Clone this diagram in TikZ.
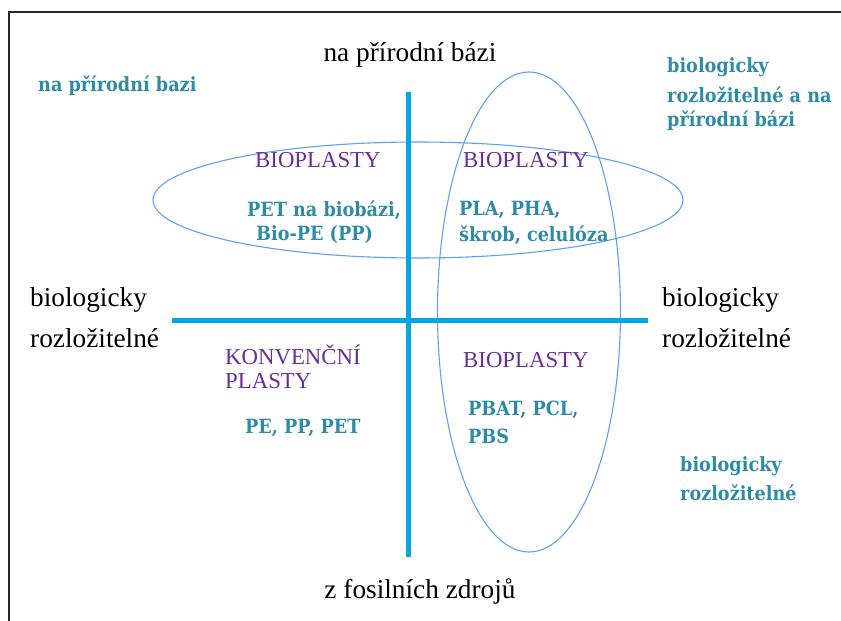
\documentclass[tikz,border=0pt]{standalone}
\usepackage{fontspec}
\setmainfont{Liberation Serif}
\newfontfamily\tealfont{DejaVu Serif}[FakeStretch=0.9]
\usetikzlibrary{shapes.geometric}
\definecolor{axisblue}{HTML}{00A6E6}
\definecolor{ovalblue}{HTML}{5EA0F5}
\definecolor{tealc}{HTML}{2E8BA6}
\definecolor{purp}{HTML}{6A2C95}
\begin{document}
\begin{tikzpicture}[x=1pt,y=-1pt,
  blk/.style={font=\fontsize{27.3}{31}\selectfont, text=black, inner sep=0pt},
  pur/.style={font=\fontsize{22.8}{26}\selectfont, text=purp, inner sep=0pt, anchor=west},
  tl/.style={font=\tealfont\bfseries\fontsize{19.6}{23}\selectfont, text=tealc, inner sep=0pt, anchor=west},
  axisline/.style={line width=5pt, draw=axisblue},
  oval/.style={draw=ovalblue, line width=1.1pt, ellipse, inner sep=0pt}]
\useasboundingbox (0,0) rectangle (841,621);
% frame
\coordinate (fbl) at (9,622);
\coordinate (ftl) at (9,12);
\coordinate (ftr) at (842,12);
\draw[line width=2pt, draw=black!85] (fbl) -- (ftl) -- (ftr);
% ovals
\node[oval, minimum width=530pt, minimum height=116pt] (ovh) at (418,200) {};
\node[oval, minimum width=183pt, minimum height=480pt] (ovv) at (529,312) {};
% axes
\coordinate (vt) at (408,92);
\coordinate (vb) at (408,557);
\coordinate (hl) at (172,320);
\coordinate (hr) at (648,320);
\draw[axisline] (vt) -- (vb);
\draw[axisline] (hl) -- (hr);
% axis labels
\node[blk] (top) at (410,55) {na přírodní bázi};
\node[blk] (bot) at (420,592) {z fosilních zdrojů};
\node[blk, anchor=west] (l1) at (30,300) {biologicky};
\node[blk, anchor=west] (l2) at (30,338) {rozložitelné};
\node[blk, anchor=west] (r1) at (662,300) {biologicky};
\node[blk, anchor=west] (r2) at (662,338) {rozložitelné};
% teal legends
\node[tl] (tl1) at (38,86) {na přírodní bazi};
\node[tl] (tr1) at (667,67) {biologicky};
\node[tl] (tr2) at (667,95) {rozložitelné a na};
\node[tl] (tr3) at (667,121) {přírodní bázi};
\node[tl] (br1) at (680,466) {biologicky};
\node[tl] (br2) at (680,493) {rozložitelné};
% quadrant contents
\node[pur] (b1) at (255,160) {BIOPLASTY};
\node[tl] (b1a) at (247,210) {PET na biobázi,};
\node[tl] (b1b) at (256,235) {Bio-PE (PP)};
\node[pur] (b2) at (463,160) {BIOPLASTY};
\node[tl] (b2a) at (459,210) {PLA, PHA,};
\node[tl] (b2b) at (459,235) {škrob, celulóza};
\node[pur] (k1) at (225,355) {KONVENČNÍ};
\node[pur] (k2) at (225,381) {PLASTY};
\node[tl] (k3) at (245,428) {PE, PP, PET};
\node[pur] (b3) at (463,360) {BIOPLASTY};
\node[tl] (b3a) at (468,410) {PBAT, PCL,};
\node[tl] (b3b) at (468,436) {PBS};
\end{tikzpicture}
\end{document}
